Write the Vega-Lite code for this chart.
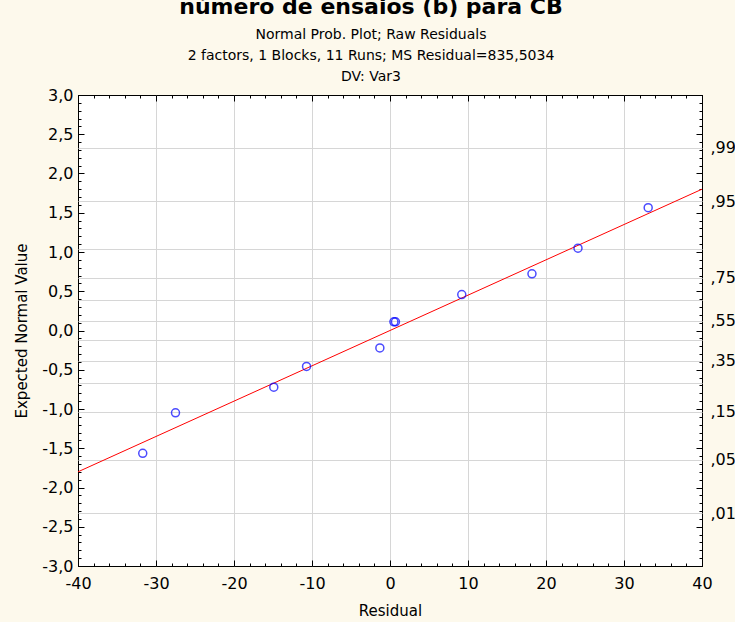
{
  "$schema": "https://vega.github.io/schema/vega-lite/v6.json",
  "width": 624,
  "height": 471,
  "autosize": {"type": "none"},
  "padding": {"left": 78, "top": 95, "right": 33, "bottom": 56},
  "background": "#fdf9ec",
  "title": {
    "text": "número de ensaios (b) para CB",
    "subtitle": ["Normal Prob. Plot; Raw Residuals", "2 factors, 1 Blocks, 11 Runs; MS Residual=835,5034", "DV: Var3"],
    "anchor": "middle",
    "frame": "group",
    "dx": -19,
    "font": "DejaVu Sans",
    "fontSize": 22,
    "fontWeight": "bold",
    "color": "black",
    "subtitleFont": "DejaVu Sans",
    "subtitleFontSize": 14,
    "subtitleColor": "black",
    "subtitleLineHeight": 21,
    "subtitlePadding": 9,
    "offset": 2
  },
  "datasets": {
    "pts": [
      {"residual": -31.7, "expected": -1.565},
      {"residual": -27.5, "expected": -1.049},
      {"residual": -14.9, "expected": -0.722},
      {"residual": -10.7, "expected": -0.458},
      {"residual": -1.3, "expected": -0.222},
      {"residual": 0.5, "expected": 0.111},
      {"residual": 0.7, "expected": 0.111},
      {"residual": 9.2, "expected": 0.458},
      {"residual": 18.2, "expected": 0.722},
      {"residual": 24.1, "expected": 1.049},
      {"residual": 33.1, "expected": 1.565}
    ],
    "fit": [
      {"residual": -40, "expected": -1.80},
      {"residual": 40, "expected": 1.80}
    ]
  },
  "config": {
    "view": {"fill": "white", "stroke": "black", "strokeWidth": 1},
    "axis": {
      "labelFont": "DejaVu Sans",
      "labelFontSize": 16,
      "labelColor": "black",
      "titleFont": "DejaVu Sans",
      "titleFontSize": 15,
      "titleFontWeight": "normal",
      "titleColor": "black",
      "tickColor": "black",
      "tickWidth": 1,
      "gridColor": "#d6d6d6",
      "gridWidth": 1,
      "labelFlush": false,
      "labelOverlap": false
    }
  },
  "resolve": {"axis": {"x": "independent", "y": "independent"}},
  "layer": [
    {
      "data": {"name": "fit"},
      "mark": {"type": "line", "color": "#ff0000", "strokeWidth": 1, "clip": true},
      "encoding": {
        "x": {"field": "residual", "type": "quantitative",
          "scale": {"domain": [-40, 40], "nice": false, "zero": false},
          "axis": {"orient": "bottom", "values": [-40, -30, -20, -10, 0, 10, 20, 30, 40], "ticks": false, "grid": false, "domain": false,
            "labelPadding": 9, "title": "Residual", "titlePadding": 12, "labelExpr": "'' + datum.value"}},
        "y": {"field": "expected", "type": "quantitative",
          "scale": {"domain": [-3, 3], "nice": false, "zero": false},
          "axis": {"orient": "left", "values": [-3, -2.5, -2, -1.5, -1, -0.5, 0, 0.5, 1, 1.5, 2, 2.5, 3], "ticks": false, "grid": false, "domain": false,
            "labelPadding": 5, "title": "Expected Normal Value", "titlePadding": 12,
            "labelExpr": "(datum.value < 0 ? '-' : '') + replace(format(abs(datum.value), '.1f'), '.', ',')"}}
      }
    },
    {
      "data": {"name": "pts"},
      "mark": {"type": "point", "shape": "circle", "filled": false, "color": "#0000ff", "size": 64, "strokeWidth": 1.5},
      "encoding": {
        "x": {"field": "residual", "type": "quantitative",
          "scale": {"domain": [-40, 40], "nice": false, "zero": false},
          "axis": {"orient": "top", "values": [-30, -20, -10, 0, 10, 20, 30], "ticks": false, "grid": true, "domain": false, "labels": false, "title": null}},
        "y": {"field": "expected", "type": "quantitative",
          "scale": {"domain": [-3, 3], "nice": false, "zero": false},
          "axis": {"orient": "right", "values": [-2.326, -1.645, -1.036, -0.674, -0.385, -0.126, 0.126, 0.385, 0.674, 1.036, 1.645, 2.326],
            "ticks": false, "grid": true, "domain": false, "title": null, "labelPadding": 8, "labelAlign": "left",
            "labelExpr": "datum.value > 2 ? ',99' : datum.value > 1.5 ? ',95' : datum.value > 0.9 ? '' : datum.value > 0.5 ? ',75' : datum.value > 0.3 ? '' : datum.value > 0 ? ',55' : datum.value > -0.2 ? '' : datum.value > -0.5 ? ',35' : datum.value > -0.8 ? '' : datum.value > -1.2 ? ',15' : datum.value > -2 ? ',05' : ',01'"}}
      }
    },
    {
      "data": {"name": "fit"},
      "mark": {"type": "point", "opacity": 0},
      "encoding": {
        "x": {"field": "residual", "type": "quantitative",
          "scale": {"domain": [-40, 40], "nice": false, "zero": false},
          "axis": {"orient": "bottom", "offset": -3, "values": [-40, -38, -36, -34, -32, -30, -28, -26, -24, -22, -20, -18, -16, -14, -12, -10, -8, -6, -4, -2, 0, 2, 4, 6, 8, 10, 12, 14, 16, 18, 20, 22, 24, 26, 28, 30, 32, 34, 36, 38, 40],
            "ticks": true, "tickSize": 3, "labels": false, "grid": false, "domain": false, "title": null}},
        "y": {"field": "expected", "type": "quantitative",
          "scale": {"domain": [-3, 3], "nice": false, "zero": false},
          "axis": {"orient": "left", "offset": -3, "values": [-3, -2.9, -2.8, -2.7, -2.6, -2.5, -2.4, -2.3, -2.2, -2.1, -2, -1.9, -1.8, -1.7, -1.6, -1.5, -1.4, -1.3, -1.2, -1.1, -1, -0.9, -0.8, -0.7, -0.6, -0.5, -0.4, -0.3, -0.2, -0.1, 0, 0.1, 0.2, 0.3, 0.4, 0.5, 0.6, 0.7, 0.8, 0.9, 1, 1.1, 1.2, 1.3, 1.4, 1.5, 1.6, 1.7, 1.8, 1.9, 2, 2.1, 2.2, 2.3, 2.4, 2.5, 2.6, 2.7, 2.8, 2.9, 3],
            "ticks": true, "tickSize": 3, "labels": false, "grid": false, "domain": false, "title": null}}
      }
    },
    {
      "data": {"name": "fit"},
      "mark": {"type": "point", "opacity": 0},
      "encoding": {
        "x": {"field": "residual", "type": "quantitative",
          "scale": {"domain": [-40, 40], "nice": false, "zero": false},
          "axis": {"orient": "bottom", "offset": -6, "values": [-40, -30, -20, -10, 0, 10, 20, 30, 40],
            "ticks": true, "tickSize": 6, "labels": false, "grid": false, "domain": false, "title": null}},
        "y": {"field": "expected", "type": "quantitative",
          "scale": {"domain": [-3, 3], "nice": false, "zero": false},
          "axis": {"orient": "left", "offset": -6, "values": [-3, -2.5, -2, -1.5, -1, -0.5, 0, 0.5, 1, 1.5, 2, 2.5, 3],
            "ticks": true, "tickSize": 6, "labels": false, "grid": false, "domain": false, "title": null}}
      }
    },
    {
      "data": {"name": "fit"},
      "mark": {"type": "point", "opacity": 0},
      "encoding": {
        "x": {"field": "residual", "type": "quantitative",
          "scale": {"domain": [-40, 40], "nice": false, "zero": false},
          "axis": {"orient": "top", "offset": -3, "values": [-40, -38, -36, -34, -32, -30, -28, -26, -24, -22, -20, -18, -16, -14, -12, -10, -8, -6, -4, -2, 0, 2, 4, 6, 8, 10, 12, 14, 16, 18, 20, 22, 24, 26, 28, 30, 32, 34, 36, 38, 40],
            "ticks": true, "tickSize": 3, "labels": false, "grid": false, "domain": false, "title": null}},
        "y": {"field": "expected", "type": "quantitative",
          "scale": {"domain": [-3, 3], "nice": false, "zero": false},
          "axis": {"orient": "right", "offset": -3, "values": [-3, -2.9, -2.8, -2.7, -2.6, -2.5, -2.4, -2.3, -2.2, -2.1, -2, -1.9, -1.8, -1.7, -1.6, -1.5, -1.4, -1.3, -1.2, -1.1, -1, -0.9, -0.8, -0.7, -0.6, -0.5, -0.4, -0.3, -0.2, -0.1, 0, 0.1, 0.2, 0.3, 0.4, 0.5, 0.6, 0.7, 0.8, 0.9, 1, 1.1, 1.2, 1.3, 1.4, 1.5, 1.6, 1.7, 1.8, 1.9, 2, 2.1, 2.2, 2.3, 2.4, 2.5, 2.6, 2.7, 2.8, 2.9, 3],
            "ticks": true, "tickSize": 3, "labels": false, "grid": false, "domain": false, "title": null}}
      }
    },
    {
      "data": {"name": "fit"},
      "mark": {"type": "point", "opacity": 0},
      "encoding": {
        "x": {"field": "residual", "type": "quantitative",
          "scale": {"domain": [-40, 40], "nice": false, "zero": false},
          "axis": {"orient": "top", "offset": -6, "values": [-40, -30, -20, -10, 0, 10, 20, 30, 40],
            "ticks": true, "tickSize": 6, "labels": false, "grid": false, "domain": false, "title": null}},
        "y": {"field": "expected", "type": "quantitative",
          "scale": {"domain": [-3, 3], "nice": false, "zero": false},
          "axis": {"orient": "right", "offset": -6, "values": [-3, -2.5, -2, -1.5, -1, -0.5, 0, 0.5, 1, 1.5, 2, 2.5, 3],
            "ticks": true, "tickSize": 6, "labels": false, "grid": false, "domain": false, "title": null}}
      }
    }
  ]
}
